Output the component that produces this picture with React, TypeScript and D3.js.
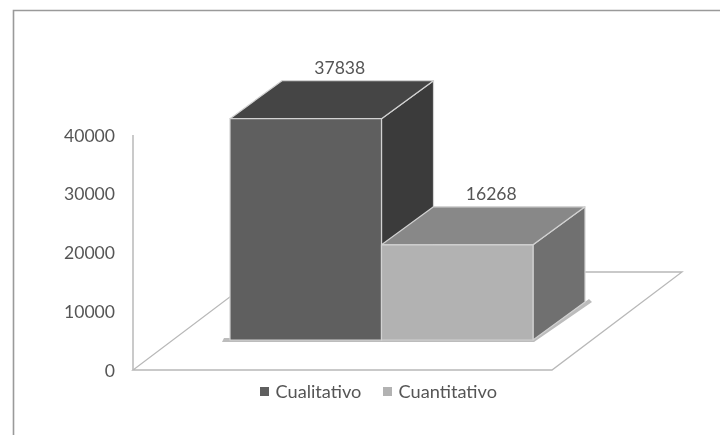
import React from "react";
import * as d3 from "d3";

const categories = ["Cualitativo", "Cuantitativo"];
const values = [37838, 16268];
const yTicks = [0, 10000, 20000, 30000, 40000];
const frontColors = ["#5f5f5f", "#b2b2b2"];
const topColors = ["#454545", "#888888"];
const sideColors = ["#3a3a3a", "#707070"];

const font = "Lato, 'Open Sans', sans-serif";
const axisY = d3.scaleLinear().domain([0, 40000]).range([370, 135]);
const barY = d3.scaleLinear().domain([0, 40000]).range([340, 106]);
const barX = d3.scaleBand<string>().domain(categories).range([230, 533]).padding(0);
const depthX = 52;
const depthY = -38;
const floor: [number, number][] = [[133, 370], [552, 370], [682, 272], [263, 272]];
const line = d3.line();

export default function App() {
  return (
    <svg width={720} height={435} style={{ position: "absolute", left: 0, top: 0, background: "#fff" }}>
      <defs>
        <filter id="soft" x="-5%" y="-5%" width="110%" height="110%">
          <feGaussianBlur stdDeviation="0.55" />
        </filter>
        <filter id="softText" x="-5%" y="-5%" width="110%" height="110%">
          <feGaussianBlur stdDeviation="0.35" />
        </filter>
      </defs>
      <g filter="url(#soft)">
        <path d="M13.5 435V10.5H720" fill="none" stroke="#9a9a9a" strokeWidth={1.6} />
        <path d={line(floor) + "Z"} fill="#fff" stroke="#b8b8b8" strokeWidth={1.3} />
        <line x1={133} x2={133} y1={axisY(40000)} y2={axisY(0)} stroke="#b8b8b8" strokeWidth={1.5} />
        <path d={line([[222, 342], [534, 342], [592, 302], [589, 299], [533, 338], [224, 338]])!} fill="#bcbcbc" />
        {categories.map((c, i) => {
          const x0 = barX(c)!;
          const x1 = x0 + barX.bandwidth();
          const y0 = barY(0);
          const y1 = barY(values[i]);
          const front: [number, number][] = [[x0, y0], [x1, y0], [x1, y1], [x0, y1]];
          const top: [number, number][] = [[x0, y1], [x1, y1], [x1 + depthX, y1 + depthY], [x0 + depthX, y1 + depthY]];
          const side: [number, number][] = [[x1, y0], [x1 + depthX, y0 + depthY], [x1 + depthX, y1 + depthY], [x1, y1]];
          return (
            <g key={c} stroke="#d2d2d2" strokeWidth={1.2} strokeLinejoin="round">
              <path d={line(side) + "Z"} fill={sideColors[i]} />
              <path d={line(top) + "Z"} fill={topColors[i]} />
              <path d={line(front) + "Z"} fill={frontColors[i]} />
            </g>
          );
        })}
      </g>
      <g fontFamily={font} fontSize={17.6} fill="#555" filter="url(#softText)">
        {yTicks.map((t) => (
          <text key={t} x={115} y={axisY(t) + 6.5} textAnchor="end">{t}</text>
        ))}
        {categories.map((c, i) => (
          <text key={c} x={barX(c)! + barX.bandwidth() / 2 + depthX / 2 + 8} y={barY(values[i]) + depthY - 6.5} textAnchor="middle">
            {values[i]}
          </text>
        ))}
      </g>
      <g fontFamily={font} fontSize={18.2} fill="#555" filter="url(#softText)">
        {categories.map((c, i) => {
          const lx = [260, 383][i];
          return (
            <g key={c}>
              <rect x={lx} y={387} width={9} height={9} fill={frontColors[i]} />
              <text x={lx + 15.5} y={398}>{c}</text>
            </g>
          );
        })}
      </g>
    </svg>
  );
}
